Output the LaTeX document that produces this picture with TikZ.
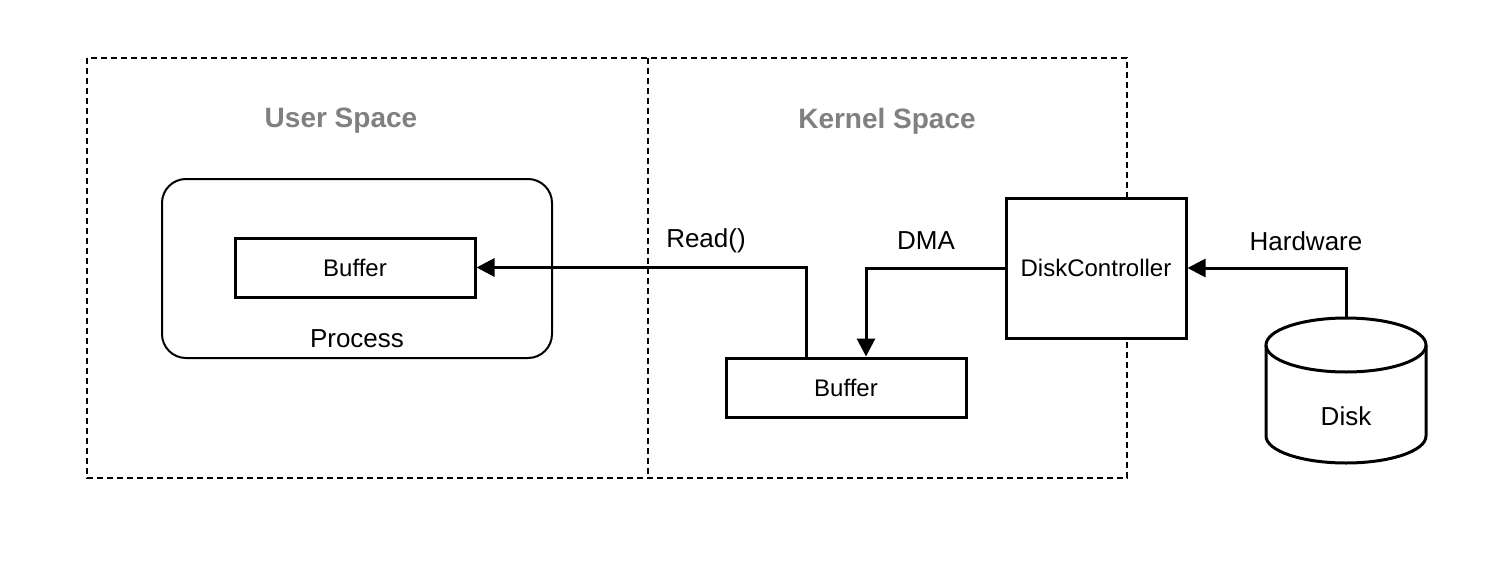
\documentclass[tikz,border=0pt]{standalone}
\usepackage{fontspec}
\setmainfont{Liberation Sans}
\usetikzlibrary{arrows.meta}
\definecolor{titlegray}{HTML}{808080}
\begin{document}
\begin{tikzpicture}[x=0.5pt,y=-0.5pt,
  region/.style={draw, line width=0.75pt, dash pattern=on 3pt off 2pt},
  box/.style={draw, line width=1.5pt, rectangle, inner sep=0pt},
  title/.style={font=\fontsize{14}{16}\selectfont\bfseries, text=titlegray},
  lbl/.style={font=\fontsize{13}{15}\selectfont},
  small/.style={font=\fontsize{12}{14}\selectfont},
  conn/.style={line width=1.5pt, -{Triangle[length=9pt,width=9pt]}}
]
\useasboundingbox (0,0) rectangle (1500,578);
% regions
\draw[region] (87,58) rectangle (1127,478);
\draw[region] (648,58) -- (648,478);
\node[title] (us) at (341,121) {User Space};
\node[title] (ks) at (887,121) {Kernel Space};
% process
\draw[line width=1pt, rounded corners=12pt] (162,179) rectangle (552,358);
\node[lbl] (proc) at (357,339) {Process};
\node[box, small, minimum width=120pt, minimum height=29.5pt] (ubuf) at (355,267.5) {Buffer};
% kernel buffer
\node[box, small, minimum width=120pt, minimum height=29.5pt] (kbuf) at (846,387.5) {Buffer};
% disk controller
\node[box, small, fill=white, minimum width=90pt, minimum height=70pt] (dc) at (1096,268) {DiskController};
% disk
\draw[line width=1.5pt, fill=white] (1266,345) -- (1266,436) arc[start angle=180, end angle=0, x radius=80, y radius=27] -- (1426,345);
\draw[line width=1.5pt, fill=white] (1346,345) ellipse[x radius=80, y radius=27];
\coordinate (disktop) at (1346,318);
\node[lbl] (disk) at (1346,416) {Disk};
% connectors
\draw[conn] (kbuf.north -| 806,0) |- (ubuf.east);
\draw[conn] (dc.west) -| (kbuf.north -| 866,0);
\draw[conn] (disktop) |- (dc.east);
\node[lbl] (lread) at (706,241) {Read()};
\node[lbl] (ldma) at (926,241) {DMA};
\node[lbl] (lhw) at (1306,241) {Hardware};
\end{tikzpicture}
\end{document}
